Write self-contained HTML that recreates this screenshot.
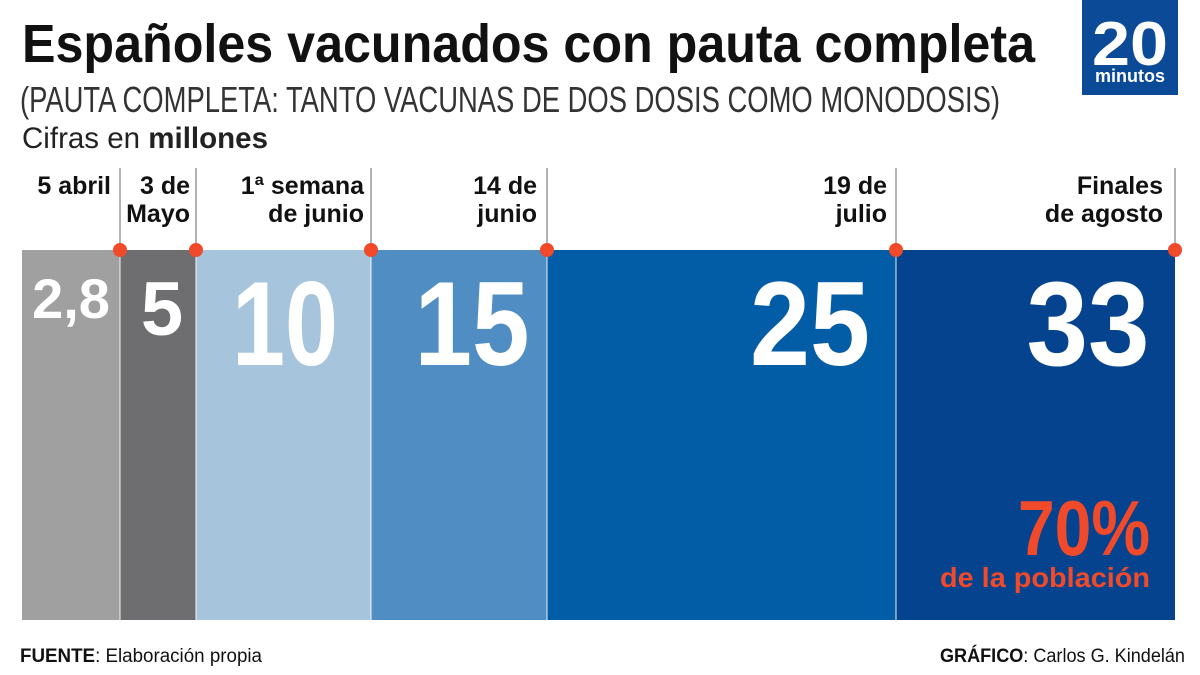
<!DOCTYPE html>
<html><head><meta charset="utf-8"><style>
html,body{margin:0;padding:0;background:#fff;width:1200px;height:675px;overflow:hidden}
svg{display:block}
text{font-family:"Liberation Sans Narrow","Liberation Sans",sans-serif}
</style></head><body>
<svg width="1200" height="675" viewBox="0 0 1200 675" xmlns="http://www.w3.org/2000/svg">
<text x="22" y="62" font-size="54" font-weight="bold" fill="#111" textLength="1013" lengthAdjust="spacingAndGlyphs">Españoles vacunados con pauta completa</text>
<text x="20" y="112" font-size="36" fill="#333" textLength="980" lengthAdjust="spacingAndGlyphs">(PAUTA COMPLETA: TANTO VACUNAS DE DOS DOSIS COMO MONODOSIS)</text>
<text x="22" y="148" font-size="30" fill="#222" textLength="246" lengthAdjust="spacingAndGlyphs">Cifras en <tspan font-weight="bold">millones</tspan></text>
<rect x="1082" y="0" width="96" height="95" fill="#0a4a96"/>
<text x="1130" y="65" font-size="62" font-weight="bold" fill="#fff" text-anchor="middle" textLength="76" lengthAdjust="spacingAndGlyphs">20</text>
<text x="1130" y="82" font-size="18" font-weight="bold" fill="#fff" text-anchor="middle" textLength="70" lengthAdjust="spacingAndGlyphs">minutos</text>
<rect x="22" y="250" width="98" height="370" fill="#a0a0a0"/>
<rect x="120" y="250" width="76" height="370" fill="#6e6e70"/>
<rect x="196" y="250" width="175" height="370" fill="#a7c4dd"/>
<rect x="371" y="250" width="176" height="370" fill="#4f8dc3"/>
<rect x="547" y="250" width="349" height="370" fill="#035da6"/>
<rect x="896" y="250" width="279" height="370" fill="#05438e"/>
<g stroke="#fff" stroke-width="1.5" opacity="0.6"><line x1="120" y1="250" x2="120" y2="620"/><line x1="196" y1="250" x2="196" y2="620"/><line x1="371" y1="250" x2="371" y2="620"/><line x1="547" y1="250" x2="547" y2="620"/><line x1="896" y1="250" x2="896" y2="620"/></g>
<g stroke="#999" stroke-width="1.5"><line x1="120" y1="168" x2="120" y2="250"/><line x1="196" y1="168" x2="196" y2="250"/><line x1="371" y1="168" x2="371" y2="250"/><line x1="547" y1="168" x2="547" y2="250"/><line x1="896" y1="168" x2="896" y2="250"/><line x1="1175" y1="168" x2="1175" y2="250"/></g>
<g fill="#f04a2b"><circle cx="120" cy="250" r="7"/><circle cx="196" cy="250" r="7"/><circle cx="371" cy="250" r="7"/><circle cx="547" cy="250" r="7"/><circle cx="896" cy="250" r="7"/><circle cx="1175" cy="250" r="7"/></g>
<g font-size="25" font-weight="bold" fill="#111" text-anchor="end">
<text x="111" y="194">5 abril</text>
<text x="190" y="194">3 de</text><text x="190" y="222">Mayo</text>
<text x="364" y="194">1ª semana</text><text x="364" y="222">de junio</text>
<text x="537" y="194">14 de</text><text x="537" y="222">junio</text>
<text x="887" y="194">19 de</text><text x="887" y="222">julio</text>
<text x="1163" y="194">Finales</text><text x="1163" y="222">de agosto</text>
</g>
<g font-weight="bold" fill="#fff" text-anchor="middle">
<text x="71" y="318" font-size="56">2,8</text>
<text x="162" y="335" font-size="76">5</text>
<text x="285" y="365" font-size="120" textLength="106" lengthAdjust="spacingAndGlyphs">10</text>
<text x="472" y="365" font-size="120" textLength="115" lengthAdjust="spacingAndGlyphs">15</text>
<text x="810" y="365" font-size="120" textLength="120" lengthAdjust="spacingAndGlyphs">25</text>
<text x="1088" y="365" font-size="120" textLength="123" lengthAdjust="spacingAndGlyphs">33</text>
</g>
<text x="1150" y="555" font-size="78" font-weight="bold" fill="#f04a2b" text-anchor="end" textLength="132" lengthAdjust="spacingAndGlyphs">70%</text>
<text x="1150" y="587" font-size="28" font-weight="bold" fill="#f04a2b" text-anchor="end" textLength="210" lengthAdjust="spacingAndGlyphs">de la población</text>
<text x="20" y="662" font-size="19" fill="#111" textLength="242" lengthAdjust="spacingAndGlyphs"><tspan font-weight="bold">FUENTE</tspan>: Elaboración propia</text>
<text x="1185" y="662" font-size="19" fill="#111" text-anchor="end" textLength="245" lengthAdjust="spacingAndGlyphs"><tspan font-weight="bold">GRÁFICO</tspan>: Carlos G. Kindelán</text>
</svg>
</body></html>
